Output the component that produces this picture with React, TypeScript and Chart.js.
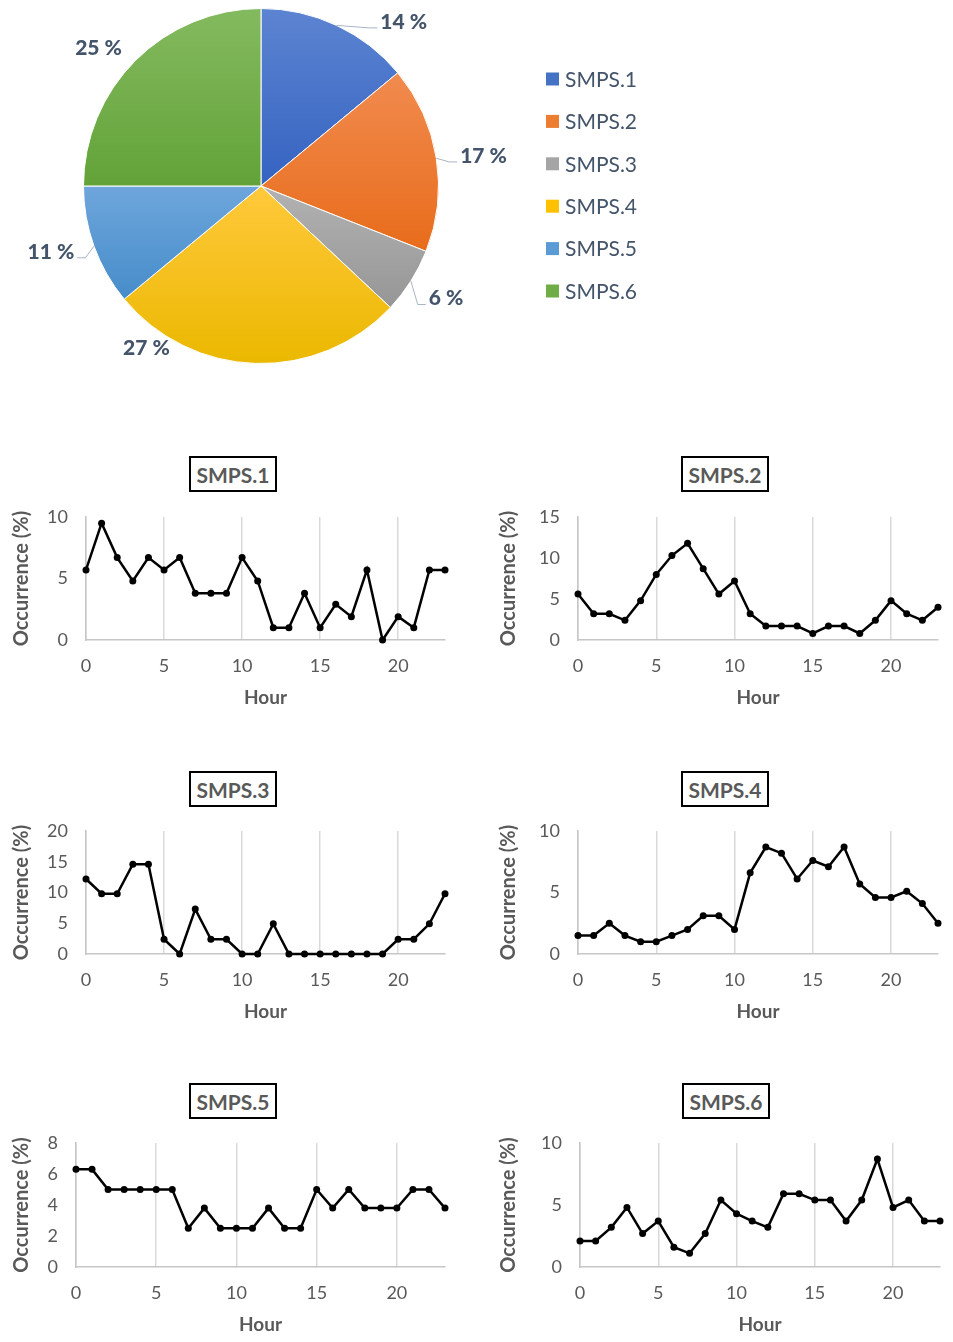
import React, { useEffect, useRef } from "react";
import { Chart, registerables } from "chart.js";

Chart.register(...registerables);

const FONT = "Lato, 'Open Sans', sans-serif";

// ---------- data ----------
const pieLabels = ["SMPS.1", "SMPS.2", "SMPS.3", "SMPS.4", "SMPS.5", "SMPS.6"];
const pieValues = [14, 17, 6, 27, 11, 25];

const hours = [0, 1, 2, 3, 4, 5, 6, 7, 8, 9, 10, 11, 12, 13, 14, 15, 16, 17, 18, 19, 20, 21, 22, 23];

const smps1 = [5.7, 9.5, 6.7, 4.8, 6.7, 5.7, 6.7, 3.8, 3.8, 3.8, 6.7, 4.8, 1.0, 1.0, 3.8, 1.0, 2.9, 1.9, 5.7, 0, 1.9, 1.0, 5.7, 5.7];
const smps2 = [5.6, 3.2, 3.2, 2.4, 4.8, 8.0, 10.3, 11.8, 8.7, 5.6, 7.2, 3.2, 1.7, 1.7, 1.7, 0.8, 1.7, 1.7, 0.8, 2.4, 4.8, 3.2, 2.4, 4.0];
const smps3 = [12.2, 9.8, 9.8, 14.6, 14.6, 2.4, 0, 7.3, 2.4, 2.4, 0, 0, 4.9, 0, 0, 0, 0, 0, 0, 0, 2.4, 2.4, 4.9, 9.8];
const smps4 = [1.5, 1.5, 2.5, 1.5, 1.0, 1.0, 1.5, 2.0, 3.1, 3.1, 2.0, 6.6, 8.7, 8.2, 6.1, 7.6, 7.1, 8.7, 5.7, 4.6, 4.6, 5.1, 4.1, 2.5];
const smps5 = [6.3, 6.3, 5.0, 5.0, 5.0, 5.0, 5.0, 2.5, 3.8, 2.5, 2.5, 2.5, 3.8, 2.5, 2.5, 5.0, 3.8, 5.0, 3.8, 3.8, 3.8, 5.0, 5.0, 3.8];
const smps6 = [2.1, 2.1, 3.2, 4.8, 2.7, 3.7, 1.6, 1.1, 2.7, 5.4, 4.3, 3.7, 3.2, 5.9, 5.9, 5.4, 5.4, 3.7, 5.4, 8.7, 4.8, 5.4, 3.7, 3.7];

const seriesList = [smps1, smps2, smps3, smps4, smps5, smps6];
const yMaxList = [10, 15, 20, 10, 8, 10];
const yStepList = [5, 5, 5, 5, 2, 5];
const xTicksStep = 5;

// ---------- styles ----------
const sliceTop = ["#5C84D1", "#F18B4F", "#B2B2B2", "#FFC93C", "#6EA6DC", "#84BA5F"];
const sliceBottom = ["#3563C1", "#E86C1B", "#969696", "#EBB800", "#468CC9", "#62A338"];
const sliceSolid = ["#4472C4", "#ED7D31", "#A5A5A5", "#FFC000", "#5B9BD5", "#70AD47"];

// label placement (polar, relative to pie centre/radius)
const pieLabelPos = [
  { angle: -49, r: 1.225, leader: true },
  { angle: -7.7, r: 1.265, leader: true },
  { angle: 31.3, r: 1.22, leader: true },
  { angle: 125.2, r: 1.12, leader: false },
  { angle: 162.6, r: 1.24, leader: true },
  { angle: 220.3, r: 1.2, leader: false },
];

function sliceGradient(ctx: any) {
  const chart = ctx.chart;
  const i = ctx.dataIndex;
  const ca = chart.chartArea;
  if (!ca || i === undefined) return sliceSolid[i] || "#999";
  const cx = (ca.left + ca.right) / 2;
  const cy = (ca.top + ca.bottom) / 2;
  const R = Math.min(ca.right - ca.left, ca.bottom - ca.top) / 2;
  const total = pieValues.reduce((a, b) => a + b, 0);
  let before = 0;
  for (let k = 0; k < i; k++) before += pieValues[k];
  const a0 = -Math.PI / 2 + (before / total) * Math.PI * 2;
  const a1 = a0 + (pieValues[i] / total) * Math.PI * 2;
  const ys = [cy, cy + R * Math.sin(a0), cy + R * Math.sin(a1)];
  const within = (ang: number) => {
    let a = ang;
    while (a < a0) a += Math.PI * 2;
    return a <= a1;
  };
  if (within(Math.PI / 2)) ys.push(cy + R);
  if (within(-Math.PI / 2)) ys.push(cy - R);
  const y0 = Math.min(...ys);
  const y1 = Math.max(...ys);
  const g = chart.ctx.createLinearGradient(0, y0, 0, y1);
  g.addColorStop(0, sliceTop[i]);
  g.addColorStop(1, sliceBottom[i]);
  return g;
}

const pieDeco = {
  id: "pieDeco",
  afterDraw(chart: any) {
    const ctx = chart.ctx;
    const meta = chart.getDatasetMeta(0);
    if (!meta.data.length) return;
    const a0: any = meta.data[0];
    const cx = a0.x;
    const cy = a0.y;
    const R = a0.outerRadius;
    ctx.save();
    ctx.font = `900 21px ${FONT}`;
    ctx.textAlign = "center";
    ctx.textBaseline = "middle";
    meta.data.forEach((arc: any, i: number) => {
      const pos = pieLabelPos[i];
      const a = (pos.angle * Math.PI) / 180;
      const tx = cx + Math.cos(a) * R * pos.r;
      const ty = cy + Math.sin(a) * R * pos.r;
      const text = `${pieValues[i]} %`;
      const w = ctx.measureText(text).width;
      if (pos.leader) {
        const mid = (arc.startAngle + arc.endAngle) / 2;
        const px = cx + Math.cos(mid) * R;
        const py = cy + Math.sin(mid) * R;
        const right = Math.cos(a) > 0;
        const edge = right ? tx - w / 2 - 3 : tx + w / 2 + 3;
        const elbow = right ? edge - 8 : edge + 8;
        ctx.beginPath();
        ctx.moveTo(px, py);
        ctx.lineTo(elbow, ty + 6);
        ctx.lineTo(edge, ty + 6);
        ctx.strokeStyle = "#A9B4C4";
        ctx.lineWidth = 1;
        ctx.stroke();
      }
      ctx.fillStyle = "#44546A";
      ctx.fillText(text, tx, ty);
    });
    // legend
    ctx.font = `21px ${FONT}`;
    ctx.textAlign = "left";
    ctx.textBaseline = "middle";
    const labels: string[] = chart.data.labels;
    labels.forEach((lab, i) => {
      const y = 79 + i * 42.4;
      ctx.fillStyle = sliceSolid[i];
      ctx.fillRect(546, y - 6.5, 13, 13);
      ctx.fillStyle = "#44546A";
      ctx.fillText(lab, 565, y + 1);
    });
    ctx.restore();
  },
};

function PieChart() {
  const ref = useRef<HTMLCanvasElement>(null);
  useEffect(() => {
    const chart = new Chart(ref.current!, {
      type: "pie",
      data: {
        labels: pieLabels,
        datasets: [
          {
            data: pieValues,
            backgroundColor: sliceGradient as any,
            borderColor: "#FFFFFF",
            borderWidth: 1,
          },
        ],
      },
      options: {
        responsive: false,
        animation: false,
        layout: { padding: { left: 83, top: 8, right: 700 - 439, bottom: 390 - 364 } },
        plugins: { legend: { display: false }, tooltip: { enabled: false } },
      },
      plugins: [pieDeco],
    });
    return () => chart.destroy();
  }, []);
  return (
    <canvas
      ref={ref}
      width={700}
      height={390}
      style={{ position: "absolute", left: 0, top: 0, width: 700, height: 390 }}
    />
  );
}

type LineProps = {
  idx: number;
  left: number;
  top: number;
  width: number;
  height: number;
  yAxisWidth: number;
  padRight: number;
  yTitlePad: number;
};

function LineChart({ idx, left, top, width, height, yAxisWidth, padRight, yTitlePad }: LineProps) {
  const ref = useRef<HTMLCanvasElement>(null);
  useEffect(() => {
    const values = seriesList[idx];
    const chart = new Chart(ref.current!, {
      type: "line",
      data: {
        datasets: [
          {
            data: hours.map((h, i) => ({ x: h, y: values[i] })),
            borderColor: "#000000",
            backgroundColor: "#000000",
            borderWidth: 2.5,
            pointRadius: 3.5,
            pointBackgroundColor: "#000000",
            pointBorderWidth: 0,
            tension: 0,
            clip: false as any,
          },
        ],
      },
      options: {
        responsive: false,
        animation: false,
        layout: { padding: { left: 0, right: padRight, top: 17, bottom: 0 } },
        plugins: { legend: { display: false }, tooltip: { enabled: false } },
        scales: {
          x: {
            type: "linear",
            min: 0,
            max: 23,
            ticks: {
              stepSize: xTicksStep,
              includeBounds: false,
              color: "#595959",
              font: { family: FONT, size: 18 },
              padding: 15,
              maxRotation: 0,
            },
            grid: { display: true, color: "#D9D9D9", lineWidth: 1.5, drawTicks: false },
            border: { display: true, color: "#C6C6C6", width: 1.5 },
            title: {
              display: true,
              text: "Hour",
              color: "#595959",
              font: { family: FONT, size: 19, weight: "bold" },
              padding: { top: 0, bottom: 6 },
            },
            afterFit: (s: any) => {
              s.height = 75;
            },
          },
          y: {
            type: "linear",
            min: 0,
            max: yMaxList[idx],
            ticks: {
              stepSize: yStepList[idx],
              color: "#595959",
              font: { family: FONT, size: 18 },
              padding: 18,
            },
            grid: { display: false, drawTicks: false },
            border: { display: true, color: "#C6C6C6", width: 1.5 },
            title: {
              display: true,
              text: "Occurrence (%)",
              color: "#595959",
              font: { family: FONT, size: 20, weight: "bold" },
              padding: { top: yTitlePad, bottom: 0 },
            },
            afterFit: (s: any) => {
              s.width = yAxisWidth;
              s.paddingTop = 0;
              s.paddingBottom = 0;
            },
          },
        },
      },
    });
    return () => chart.destroy();
  }, []);
  return (
    <canvas
      ref={ref}
      width={width}
      height={height}
      style={{ position: "absolute", left, top, width, height }}
    />
  );
}

function TitleBox({ text, left, top }: { text: string; left: number; top: number }) {
  return (
    <div
      style={{
        position: "absolute",
        left,
        top,
        width: 88,
        height: 36,
        boxSizing: "border-box",
        border: "2px solid #000",
        display: "flex",
        alignItems: "center",
        justifyContent: "center",
        fontFamily: FONT,
        fontWeight: 700,
        fontSize: 21,
        color: "#595959",
        background: "#fff",
      }}
    >
      {text}
    </div>
  );
}

const chartLayouts = [
  { left: 0, top: 500, width: 470, height: 215, yAxisWidth: 86, padRight: 25, yTitlePad: 10, boxL: 189, boxT: 456 },
  { left: 488, top: 500, width: 465, height: 215, yAxisWidth: 90, padRight: 15, yTitlePad: 9, boxL: 681, boxT: 456 },
  { left: 0, top: 814, width: 470, height: 215, yAxisWidth: 86, padRight: 25, yTitlePad: 10, boxL: 189, boxT: 771 },
  { left: 488, top: 814, width: 465, height: 215, yAxisWidth: 90, padRight: 15, yTitlePad: 9, boxL: 681, boxT: 771 },
  { left: 0, top: 1126, width: 470, height: 216, yAxisWidth: 76, padRight: 25, yTitlePad: 10, boxL: 189, boxT: 1083 },
  { left: 488, top: 1126, width: 465, height: 216, yAxisWidth: 92, padRight: 13, yTitlePad: 9, boxL: 682, boxT: 1083 },
];

export default function App() {
  return (
    <div
      style={{
        position: "absolute",
        left: 0,
        top: 0,
        width: 953,
        height: 1342,
        overflow: "hidden",
        background: "#fff",
      }}
    >
      <PieChart />
      {chartLayouts.map((c, i) => (
        <React.Fragment key={i}>
          <LineChart
            idx={i}
            left={c.left}
            top={c.top}
            width={c.width}
            height={c.height}
            yAxisWidth={c.yAxisWidth}
            padRight={c.padRight}
            yTitlePad={c.yTitlePad}
          />
          <TitleBox text={pieLabels[i]} left={c.boxL} top={c.boxT} />
        </React.Fragment>
      ))}
    </div>
  );
}
